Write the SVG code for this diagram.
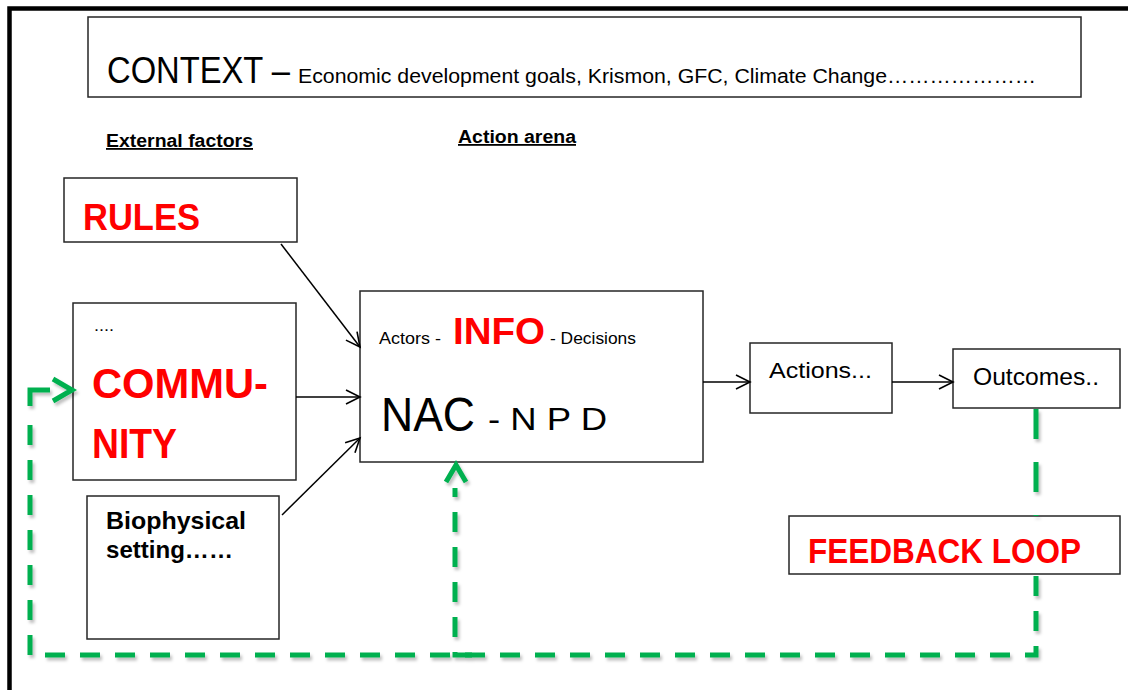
<svg xmlns="http://www.w3.org/2000/svg" width="1128" height="690" viewBox="0 0 1128 690">
  <style>
    .box { fill: #ffffff; stroke: #262626; stroke-width: 1.5; }
    .sans { font-family: "Liberation Sans", Arial, sans-serif; }
    .red { fill: #ff0000; font-weight: bold; }
    .bold { font-weight: bold; }
    .link { fill: none; stroke: #000000; stroke-width: 1.5; }
    .loop { fill: none; stroke: #00b050; stroke-width: 5; }
    .head { fill: none; stroke: #00b050; stroke-width: 5; stroke-linejoin: miter; }
  </style>
  <defs>
    <marker id="open-arrow" markerUnits="userSpaceOnUse" markerWidth="18" markerHeight="18" refX="15" refY="8" orient="auto" viewBox="0 0 18 16">
      <path d="M1,1 L15,8 L1,15" fill="none" stroke="#000000" stroke-width="1.6"/>
    </marker>
    <filter id="soft-shadow" x="-10%" y="-10%" width="130%" height="130%">
      <feDropShadow dx="2" dy="3" stdDeviation="1.5" flood-color="#000000" flood-opacity="0.25"/>
    </filter>
  </defs>

  <rect width="1128" height="690" fill="#ffffff"/>

  <!-- outer frame (top and left edges) -->
  <g id="frame">
    <path d="M9.5,690 V8.5 H1128" fill="none" stroke="#000000" stroke-width="4.5"/>
  </g>

  <g id="context" class="sans">
    <rect class="box" x="88" y="17" width="993" height="80"/>
    <text x="107" y="83" font-size="36" textLength="183" lengthAdjust="spacingAndGlyphs">CONTEXT –</text>
    <text x="298" y="83" font-size="20" textLength="738" lengthAdjust="spacingAndGlyphs">Economic development goals, Krismon, GFC, Climate Change…………………</text>
  </g>

  <g id="headings" class="sans bold">
    <text x="106" y="147" font-size="18" text-decoration="underline" textLength="147" lengthAdjust="spacingAndGlyphs">External factors</text>
    <text x="458" y="143" font-size="18" text-decoration="underline" textLength="118" lengthAdjust="spacingAndGlyphs">Action arena</text>
  </g>

  <g id="rules" class="sans">
    <rect class="box" x="64" y="178" width="233" height="64"/>
    <text class="red" x="83" y="230" font-size="37" textLength="117" lengthAdjust="spacingAndGlyphs">RULES</text>
  </g>

  <g id="community" class="sans">
    <rect class="box" x="73" y="303" width="223" height="177"/>
    <text x="94" y="331" font-size="16" textLength="20" lengthAdjust="spacingAndGlyphs">....</text>
    <text class="red" x="92" y="398" font-size="42" textLength="176" lengthAdjust="spacingAndGlyphs">COMMU-</text>
    <text class="red" x="92" y="458" font-size="42" textLength="85" lengthAdjust="spacingAndGlyphs">NITY</text>
  </g>

  <g id="biophysical" class="sans bold">
    <rect class="box" x="87" y="496" width="192" height="143"/>
    <text x="106" y="529" font-size="24" textLength="140" lengthAdjust="spacingAndGlyphs">Biophysical</text>
    <text x="106" y="558" font-size="24" textLength="127" lengthAdjust="spacingAndGlyphs">setting……</text>
  </g>

  <g id="action-arena" class="sans">
    <rect class="box" x="360" y="291" width="343" height="171"/>
    <text x="379" y="344" font-size="17" textLength="62" lengthAdjust="spacingAndGlyphs">Actors -</text>
    <text class="red" x="453" y="344" font-size="37" textLength="92" lengthAdjust="spacingAndGlyphs">INFO</text>
    <text x="550" y="344" font-size="17" textLength="86" lengthAdjust="spacingAndGlyphs">- Decisions</text>
    <text x="381" y="431" font-size="48" textLength="94" lengthAdjust="spacingAndGlyphs">NAC</text>
    <text x="488" y="430" font-size="31" textLength="119" lengthAdjust="spacingAndGlyphs">- N P D</text>
  </g>

  <g id="actions" class="sans">
    <rect class="box" x="750" y="343" width="142" height="70"/>
    <text x="769" y="378" font-size="22" textLength="103" lengthAdjust="spacingAndGlyphs">Actions...</text>
  </g>

  <g id="outcomes" class="sans">
    <rect class="box" x="953" y="349" width="167" height="59"/>
    <text x="973" y="385" font-size="23" textLength="126" lengthAdjust="spacingAndGlyphs">Outcomes..</text>
  </g>

  <g id="feedback-loop" class="sans">
    <rect class="box" x="789" y="516" width="331" height="58"/>
    <text class="red" x="808" y="563" font-size="35" textLength="273" lengthAdjust="spacingAndGlyphs">FEEDBACK LOOP</text>
  </g>

  <g id="connectors">
    <!-- solid arrows into and out of the action arena -->
    <line class="link" x1="281" y1="244" x2="360" y2="347" marker-end="url(#open-arrow)"/>
    <line class="link" x1="296" y1="397" x2="360" y2="397" marker-end="url(#open-arrow)"/>
    <line class="link" x1="282" y1="515" x2="360" y2="438" marker-end="url(#open-arrow)"/>
    <line class="link" x1="703" y1="382" x2="750" y2="382" marker-end="url(#open-arrow)"/>
    <line class="link" x1="892" y1="382" x2="953" y2="382" marker-end="url(#open-arrow)"/>

    <!-- dashed feedback route -->
    <g filter="url(#soft-shadow)">
      <line class="loop" x1="1036" y1="409" x2="1036" y2="516" stroke-width="7" stroke-dasharray="30 23"/>
      <path class="loop" d="M1036,576 V655 H30 V410" stroke-dasharray="20 15"/>
      <path class="loop" d="M30,406 V390 H50" stroke-linejoin="miter"/>
      <polyline class="head" points="53,379 72,390 53,401"/>
      <path class="loop" d="M472,655 H455 V488" stroke-dasharray="20 15"/>
      <polyline class="head" points="446,482 456,465 466,482"/>
    </g>
  </g>
</svg>
